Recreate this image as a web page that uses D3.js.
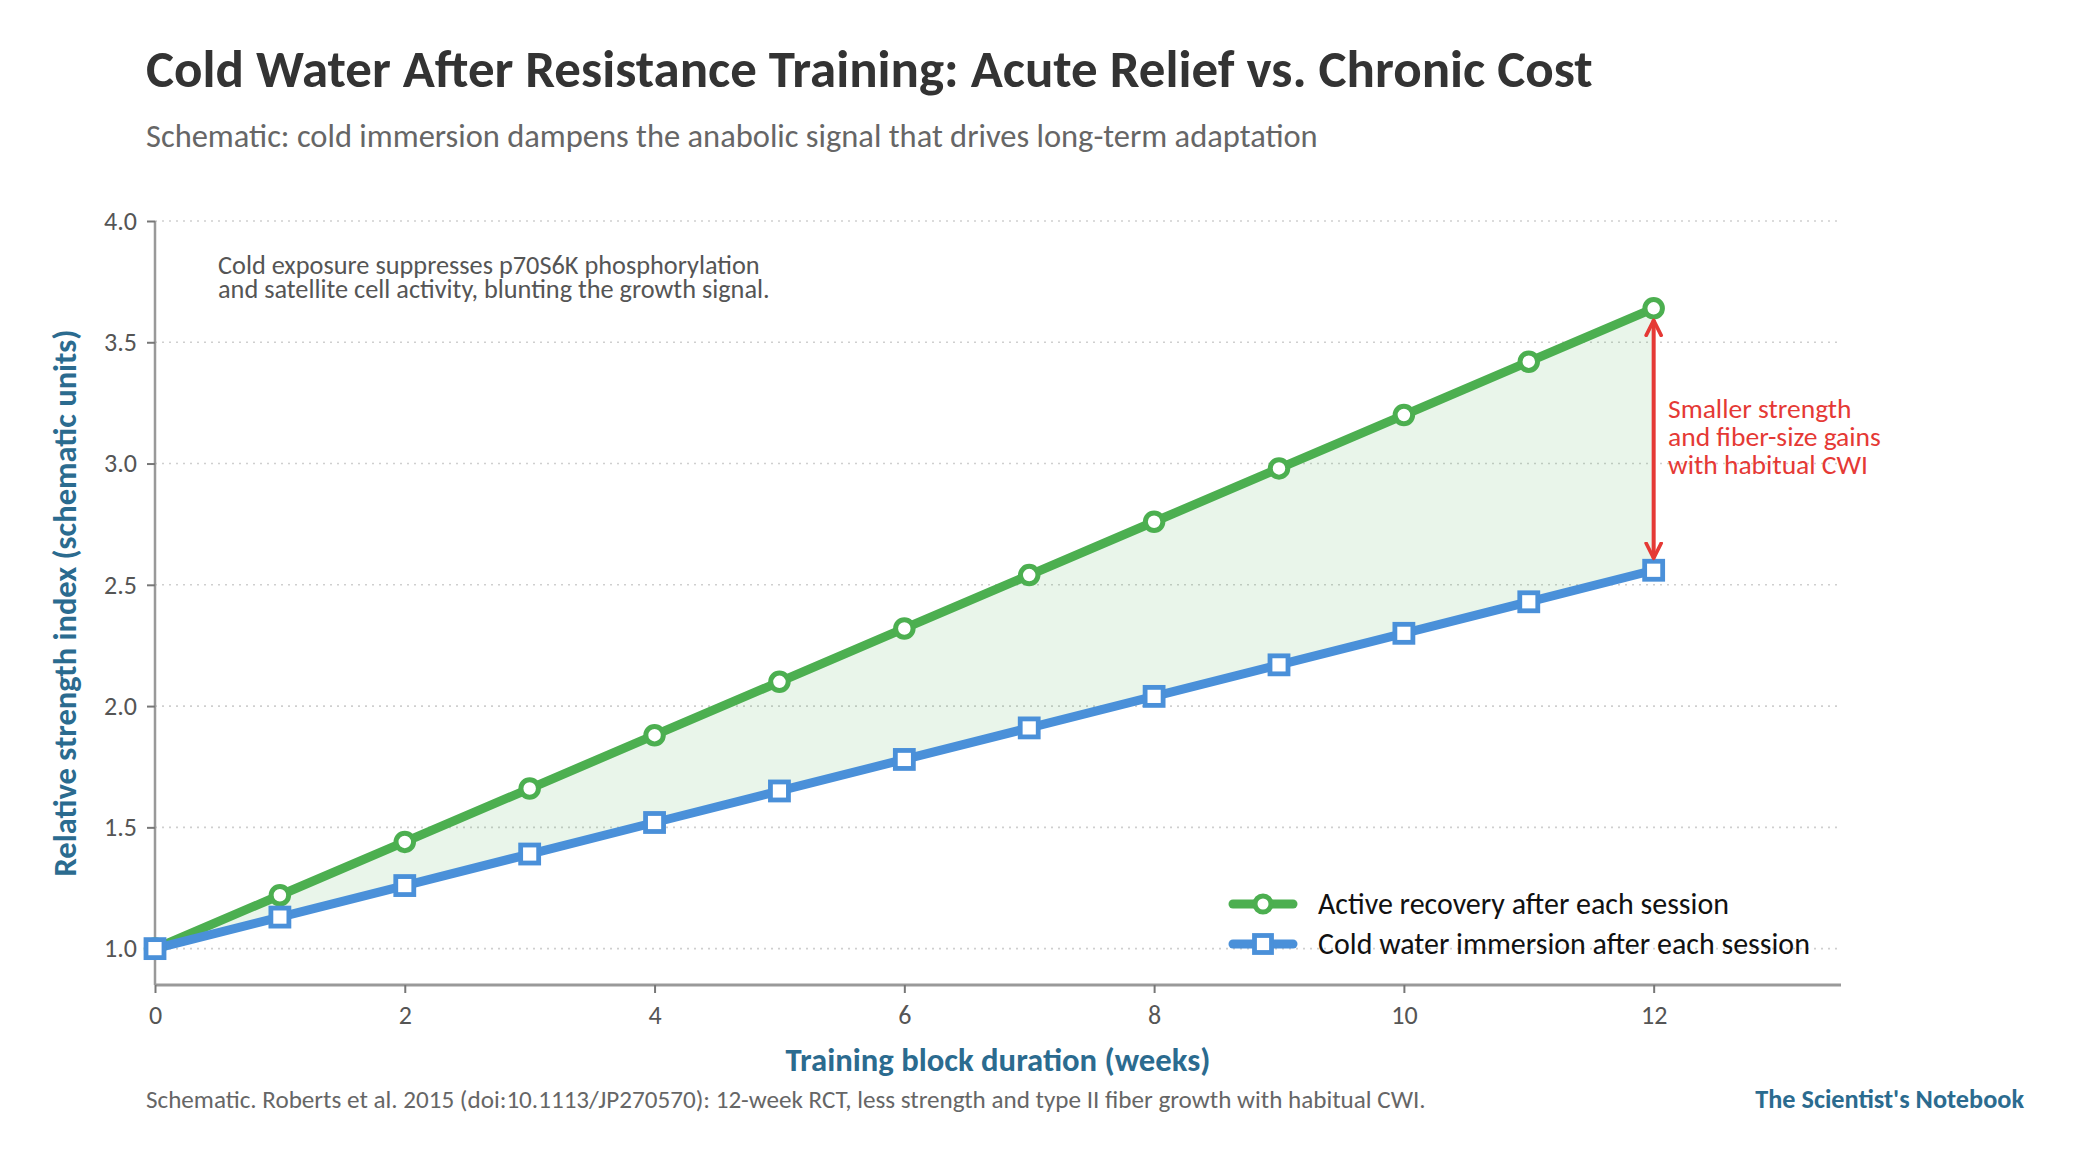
<!DOCTYPE html>
<html>
<head>
<meta charset="utf-8">
<script src="https://cdn.jsdelivr.net/npm/d3@7"></script>
<style>
  body { margin: 0; background: #fff; }
  text { font-family: Carlito, Calibri, Lato, sans-serif; }
</style>
</head>
<body>
<svg id="chart" width="2077" height="1167"></svg>
<script>
// data
var weeks = [0, 1, 2, 3, 4, 5, 6, 7, 8, 9, 10, 11, 12];
var activeRecovery = [1.00, 1.22, 1.44, 1.66, 1.88, 2.10, 2.32, 2.54, 2.76, 2.98, 3.20, 3.42, 3.64];
var coldImmersion = [1.00, 1.13, 1.26, 1.39, 1.52, 1.65, 1.78, 1.91, 2.04, 2.17, 2.30, 2.43, 2.56];
var xTicks = [0, 2, 4, 6, 8, 10, 12];
var yTicks = [1.0, 1.5, 2.0, 2.5, 3.0, 3.5, 4.0];
var seriesNames = ["Active recovery after each session", "Cold water immersion after each session"];
var noteLines = ["Cold exposure suppresses p70S6K phosphorylation", "and satellite cell activity, blunting the growth signal."];
var gapLines = ["Smaller strength", "and fiber-size gains", "with habitual CWI"];

var green = "#4caf50", blue = "#4a90d9", red = "#e53935", axisBlue = "#2b6b8f";

var svg = d3.select("#chart");
var plotLeft = 155, plotRight = 1841, plotTop = 221, plotBottom = 985;

var x = d3.scaleLinear().domain([0, 13.5]).range([plotLeft, plotRight]);
var y = d3.scaleLinear().domain([0.85, 4.0]).range([plotBottom, plotTop]);

// ajusta el tamaño de letra para que el texto ocupe el ancho deseado
function fitWidth(sel, w) {
    var len = sel.node().getComputedTextLength();
    var fs = parseFloat(sel.attr("font-size"));
    sel.attr("font-size", fs * w / len);
    return fs * w / len;
}

// titulo y subtitulo
var title = svg.append("text").attr("x", 146).attr("y", 87)
    .attr("font-size", 44).attr("font-weight", "bold").attr("fill", "#333")
    .text("Cold Water After Resistance Training: Acute Relief vs. Chronic Cost");
fitWidth(title, 1447);

var sub = svg.append("text").attr("x", 146).attr("y", 147)
    .attr("font-size", 28).attr("fill", "#666")
    .text("Schematic: cold immersion dampens the anabolic signal that drives long-term adaptation");
fitWidth(sub, 1172);

// rejilla
svg.append("g").selectAll("line").data(yTicks).enter().append("line")
    .attr("x1", plotLeft).attr("x2", plotRight)
    .attr("y1", function(d) { return y(d); }).attr("y2", function(d) { return y(d); })
    .attr("stroke", "#cfcfcf").attr("stroke-width", 1.6).attr("stroke-dasharray", "2,5");

// area entre las dos series
var area = d3.area()
    .x(function(d, i) { return x(weeks[i]); })
    .y0(function(d, i) { return y(coldImmersion[i]); })
    .y1(function(d) { return y(d); });
svg.append("path").datum(activeRecovery).attr("d", area)
    .attr("fill", green).attr("fill-opacity", 0.12);

// ejes
var yAxis = d3.axisLeft(y).tickValues(yTicks).tickFormat(d3.format(".1f")).tickSize(8).tickPadding(10);
var gy = svg.append("g").attr("transform", "translate(" + plotLeft + ",0)").call(yAxis);
gy.select(".domain").attr("d", "M0," + plotTop + "V" + plotBottom).attr("stroke", "#999").attr("stroke-width", 2.5);
gy.selectAll(".tick line").attr("stroke", "#777").attr("stroke-width", 2);
gy.selectAll(".tick text").attr("font-size", 26).attr("fill", "#555")
    .style("font-family", "Carlito, Calibri, Lato, sans-serif");

var xAxis = d3.axisBottom(x).tickValues(xTicks).tickSize(8).tickPadding(13);
var gx = svg.append("g").attr("transform", "translate(0," + plotBottom + ")").call(xAxis);
gx.select(".domain").attr("d", "M" + plotLeft + ",0H" + plotRight).attr("stroke", "#999").attr("stroke-width", 3);
gx.selectAll(".tick line").attr("stroke", "#777").attr("stroke-width", 2);
gx.selectAll(".tick text").attr("font-size", 26).attr("fill", "#555")
    .style("font-family", "Carlito, Calibri, Lato, sans-serif");

// lineas
var line = d3.line()
    .x(function(d, i) { return x(weeks[i]); })
    .y(function(d) { return y(d); });

svg.append("path").datum(activeRecovery).attr("d", line)
    .attr("fill", "none").attr("stroke", green).attr("stroke-width", 9).attr("stroke-linejoin", "round");
svg.append("path").datum(coldImmersion).attr("d", line)
    .attr("fill", "none").attr("stroke", blue).attr("stroke-width", 9).attr("stroke-linejoin", "round");

svg.append("g").selectAll("circle").data(activeRecovery).enter().append("circle")
    .attr("cx", function(d, i) { return x(weeks[i]); })
    .attr("cy", function(d) { return y(d); })
    .attr("r", 8.75).attr("fill", "#fff").attr("stroke", green).attr("stroke-width", 5);

svg.append("g").selectAll("rect").data(coldImmersion).enter().append("rect")
    .attr("x", function(d, i) { return x(weeks[i]) - 9; })
    .attr("y", function(d) { return y(d) - 9; })
    .attr("width", 18).attr("height", 18)
    .attr("fill", "#fff").attr("stroke", blue).attr("stroke-width", 4.8);

// nota arriba a la izquierda
var note = svg.append("text").attr("x", 218).attr("y", 274)
    .attr("font-size", 21).attr("fill", "#555");
note.selectAll("tspan").data(noteLines).enter().append("tspan")
    .attr("x", 218).attr("dy", function(d, i) { return i ? 24 : 0; })
    .text(function(d) { return d; });
var n1 = note.select("tspan").node().getComputedTextLength();
note.attr("font-size", 21 * 542 / n1);

// flecha de diferencia
var last = weeks.length - 1;
var defs = svg.append("defs");
defs.append("marker").attr("id", "head").attr("viewBox", "0 0 12 12")
    .attr("refX", 10).attr("refY", 6).attr("markerWidth", 20).attr("markerHeight", 20)
    .attr("markerUnits", "userSpaceOnUse").attr("orient", "auto-start-reverse")
    .append("path").attr("d", "M1,1.5 L10,6 L1,10.5").attr("fill", "none")
    .attr("stroke", red).attr("stroke-width", 2.2).attr("stroke-linecap", "round")
    .attr("stroke-linejoin", "round");
svg.append("line")
    .attr("x1", x(weeks[last])).attr("x2", x(weeks[last]))
    .attr("y1", y(activeRecovery[last]) + 12).attr("y2", y(coldImmersion[last]) - 12)
    .attr("stroke", red).attr("stroke-width", 4)
    .attr("marker-start", "url(#head)").attr("marker-end", "url(#head)");

var gap = svg.append("text").attr("x", 1668).attr("y", 418)
    .attr("font-size", 23).attr("fill", red);
gap.selectAll("tspan").data(gapLines).enter().append("tspan")
    .attr("x", 1668).attr("dy", function(d, i) { return i ? 28 : 0; })
    .text(function(d) { return d; });
var g2 = gap.selectAll("tspan").nodes()[1].getComputedTextLength();
gap.attr("font-size", 23 * 213 / g2);

// leyenda
var legend = svg.append("g");
var legRows = [
    { name: seriesNames[0], color: green, shape: "circle", y: 904 },
    { name: seriesNames[1], color: blue, shape: "square", y: 944 }
];
legRows.forEach(function(r) {
    legend.append("line").attr("x1", 1233).attr("x2", 1293).attr("y1", r.y).attr("y2", r.y)
        .attr("stroke", r.color).attr("stroke-width", 9).attr("stroke-linecap", "round");
    if (r.shape == "circle") {
        legend.append("circle").attr("cx", 1263).attr("cy", r.y).attr("r", 8)
            .attr("fill", "#fff").attr("stroke", r.color).attr("stroke-width", 5);
    } else {
        legend.append("rect").attr("x", 1254.5).attr("y", r.y - 8.5).attr("width", 17).attr("height", 17)
            .attr("fill", "#fff").attr("stroke", r.color).attr("stroke-width", 4.8);
    }
});
var legTexts = legend.selectAll("text.leg").data(legRows).enter().append("text")
    .attr("class", "leg").attr("x", 1318).attr("y", function(d) { return d.y + 10; })
    .attr("font-size", 26).attr("fill", "#111")
    .text(function(d) { return d.name; });
var lw = legTexts.nodes()[1].getComputedTextLength();
legTexts.attr("font-size", 26 * 492 / lw);

// titulos de ejes
var xl = svg.append("text").attr("x", (plotLeft + plotRight) / 2).attr("y", 1071)
    .attr("text-anchor", "middle").attr("font-size", 28).attr("font-weight", "bold")
    .attr("fill", axisBlue).text("Training block duration (weeks)");
fitWidth(xl, 425);

var yl = svg.append("text").attr("transform", "translate(76," + ((plotTop + plotBottom) / 2) + ") rotate(-90)")
    .attr("text-anchor", "middle").attr("font-size", 28).attr("font-weight", "bold")
    .attr("fill", axisBlue).text("Relative strength index (schematic units)");
fitWidth(yl, 547);

// pie
var foot = svg.append("text").attr("x", 146).attr("y", 1108)
    .attr("font-size", 21).attr("fill", "#666")
    .text("Schematic. Roberts et al. 2015 (doi:10.1113/JP270570): 12-week RCT, less strength and type II fiber growth with habitual CWI.");
fitWidth(foot, 1280);

var brand = svg.append("text").attr("x", 2024).attr("y", 1108)
    .attr("text-anchor", "end").attr("font-size", 23).attr("font-weight", "bold")
    .attr("fill", axisBlue).text("The Scientist's Notebook");
fitWidth(brand, 269);
</script>
</body>
</html>
